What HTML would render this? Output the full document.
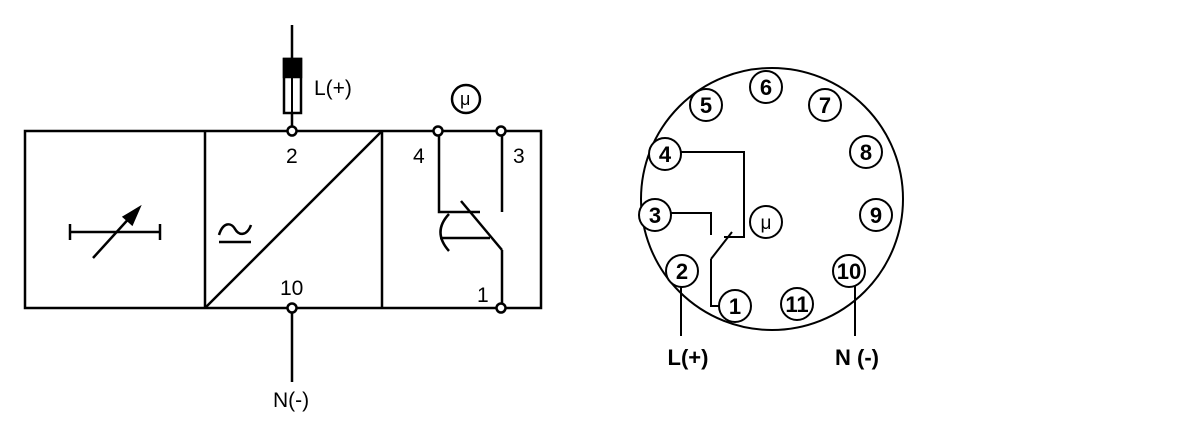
<!DOCTYPE html>
<html><head><style>
body{margin:0;background:#fff}
svg{display:block}
text{font-family:"Liberation Sans",Arial,sans-serif}
</style></head><body>
<svg width="1194" height="441" viewBox="0 0 1194 441" xmlns="http://www.w3.org/2000/svg">
<g stroke="#000" stroke-width="2.5" fill="none">
<rect x="25" y="131" width="516" height="177"/>
<line x1="205" y1="131" x2="205" y2="308"/>
<line x1="382" y1="131" x2="382" y2="308"/>
<line x1="205" y1="308" x2="382" y2="131"/>
<line x1="292" y1="25" x2="292" y2="127"/>
<rect x="284" y="59" width="17" height="54" fill="#fff"/>
<rect x="284" y="59" width="17" height="18" fill="#000"/>
<line x1="292" y1="77" x2="292" y2="113" stroke-width="2"/>
<line x1="292" y1="312" x2="292" y2="382"/>
<line x1="70" y1="232" x2="160" y2="232"/>
<line x1="70" y1="224" x2="70" y2="240"/>
<line x1="160" y1="224" x2="160" y2="240"/>
<line x1="93" y1="258" x2="133" y2="214"/>
<polygon points="139,208 124,217 132,224" fill="#000"/>
<path d="M219,235 C223,222 231,222 235,229 C239,236 247,236 251,225"/>
<line x1="219" y1="242" x2="251" y2="242"/>
<polyline points="439,135 439,212 480,212"/>
<line x1="461" y1="201" x2="502" y2="250"/>
<polyline points="502,250 502,304"/>
<line x1="502" y1="135" x2="502" y2="212"/>
<line x1="440" y1="238" x2="490" y2="238"/>
<path d="M449,214 Q432,232 449,251"/>
<circle cx="466" cy="99" r="14"/>
<circle cx="292" cy="131" r="4.5" fill="#fff"/>
<circle cx="292" cy="308" r="4.5" fill="#fff"/>
<circle cx="438" cy="131" r="4.5" fill="#fff"/>
<circle cx="501" cy="131" r="4.5" fill="#fff"/>
<circle cx="501" cy="308" r="4.5" fill="#fff"/>
</g>
<g font-size="21" fill="#000">
<text x="314" y="95">L(+)</text>
<text x="286" y="163">2</text>
<text x="413" y="163">4</text>
<text x="513" y="163">3</text>
<text x="280" y="295">10</text>
<text x="477" y="302">1</text>
<text x="273" y="407">N(-)</text>
<text x="460" y="105" font-size="18">μ</text>
</g>
<g stroke="#000" stroke-width="2" fill="none">
<circle cx="772" cy="199" r="131"/>
<line x1="681" y1="286" x2="681" y2="336"/>
<line x1="855" y1="286" x2="855" y2="336"/>
<polyline points="681,152 744,152 744,237 724,237"/>
<line x1="732" y1="232" x2="711" y2="259"/>
<polyline points="711,259 711,306 720,306"/>
<polyline points="671,213 711,213 711,235"/>
</g>
<g stroke="#000" stroke-width="2" fill="#fff">
<circle cx="766" cy="87" r="16"/>
<circle cx="706" cy="105" r="16"/>
<circle cx="825" cy="105" r="16"/>
<circle cx="665" cy="154" r="16"/>
<circle cx="866" cy="152" r="16"/>
<circle cx="655" cy="215" r="16"/>
<circle cx="876" cy="215" r="16"/>
<circle cx="766" cy="222" r="16"/>
<circle cx="682" cy="271" r="16"/>
<circle cx="849" cy="271" r="16"/>
<circle cx="735" cy="306" r="16"/>
<circle cx="797" cy="304" r="16"/>
</g>
<g font-size="22" font-weight="bold" text-anchor="middle" fill="#000">
<text x="766" y="95">6</text>
<text x="706" y="113">5</text>
<text x="825" y="113">7</text>
<text x="665" y="162">4</text>
<text x="866" y="160">8</text>
<text x="655" y="223">3</text>
<text x="876" y="223">9</text>
<text x="766" y="229" font-weight="normal" font-size="19">μ</text>
<text x="682" y="279">2</text>
<text x="849" y="279">10</text>
<text x="735" y="314">1</text>
<text x="797" y="312">11</text>
<text x="688" y="365">L(+)</text>
<text x="857" y="365">N (-)</text>
</g>
</svg>
</body></html>
